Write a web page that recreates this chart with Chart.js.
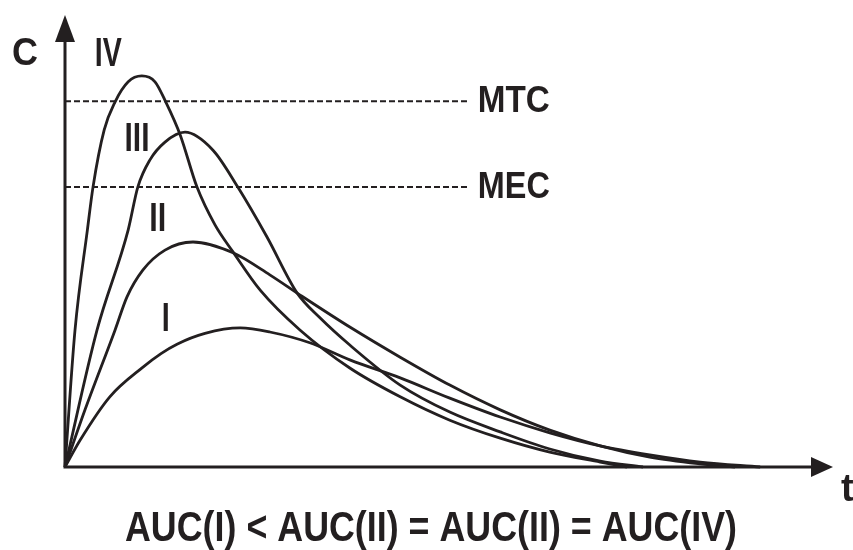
<!DOCTYPE html>
<html>
<head>
<meta charset="utf-8">
<script src="https://cdn.jsdelivr.net/npm/chart.js@4/dist/chart.umd.min.js"></script>
<style>
  body { margin: 0; background: #fff; }
  canvas { display: block; }
</style>
</head>
<body>
<canvas id="chart" width="853" height="550"></canvas>
<script>
// Кривые концентрации (t, C)
const curveIV = [[0,0],[1.25,30.4],[2.8,52.7],[3.5,62.2],[4.9,74.9],[6.25,81.1],[7.9,85.6],[9.6,86.9],[11.25,85.6],[12.6,81.1],[14.4,73.8],[16.5,62.2],[18.75,53.8],[21,47.8],[24.4,39.3],[29.4,30.4],[35.6,22],[41.9,15.6],[48.1,10.4],[54.4,6.4],[60.6,3.3],[66.9,1.1],[70.25,0]];
const curveIII = [[0,0],[4.0,30.4],[7.9,52.7],[9.1,62.2],[10.6,68.2],[12.5,72.2],[15,74.4],[18.5,70.4],[21.6,62.2],[25.25,51.1],[29,38.7],[31.9,33.1],[35.6,27.1],[41.9,18.2],[48.1,12.2],[54.4,7.8],[60.6,4],[66.9,1.3],[72.25,0]];
const curveII = [[0,0],[2.5,12.7],[6.25,30.4],[7.75,37.8],[9.75,43.8],[12.5,48.2],[16,50],[21,47.6],[25.6,42.7],[29.4,38.2],[35.6,31.1],[41.9,24.4],[48.1,18.2],[54.4,12.7],[60.6,8.2],[66.9,4.7],[73.1,2.2],[79.4,0.7],[83.75,0]];
const curveI = [[0,0],[1.9,6.0],[5.6,15.6],[9.75,22.2],[12,25.2],[14,27.3],[17.5,29.7],[21.9,30.9],[25.6,30],[30.6,27.6],[35.6,23.8],[41.9,19.8],[48.1,15.3],[54.4,11.1],[60.6,7.6],[66.9,4.7],[73.1,2.7],[79.4,1.1],[86.9,0]];

// Пороговые уровни
const levelNames = ["MTC", "MEC"];
const levelValues = [81.3, 62.2];
const levelEnd = 50.6;

const curveNames = ["IV", "III", "II", "I"];
const footer = "AUC(I) < AUC(II) = AUC(II) = AUC(IV)";

const ink = "#231f20";
const font = '"Liberation Sans Narrow", "Liberation Sans", Arial, sans-serif';

function toPoints(arr) {
    return arr.map(p => ({ x: p[0], y: p[1] }));
}

let datasets = [curveIV, curveIII, curveII, curveI].map((c, i) => ({
    label: curveNames[i],
    data: toPoints(c),
    borderColor: ink,
    borderWidth: 2.8,
    pointRadius: 0,
    cubicInterpolationMode: "monotone",
    fill: false,
    clip: false
}));

levelValues.forEach((v, i) => {
    datasets.push({
        label: levelNames[i],
        data: [{ x: 0, y: v }, { x: levelEnd, y: v }],
        borderColor: ink,
        borderWidth: 2,
        borderDash: [6, 3],
        pointRadius: 0,
        fill: false
    });
});

// Оси со стрелками и подписи
const decorations = {
    id: "decorations",
    afterDraw(chart) {
        const ctx = chart.ctx;
        const xs = chart.scales.x, ys = chart.scales.y;
        const x0 = xs.getPixelForValue(0), y0 = ys.getPixelForValue(0);
        const top = chart.chartArea.top, right = chart.chartArea.right;
        ctx.save();
        ctx.strokeStyle = ink;
        ctx.fillStyle = ink;
        ctx.lineWidth = 3;
        ctx.beginPath();
        ctx.moveTo(x0, y0);
        ctx.lineTo(x0, top + 20);
        ctx.moveTo(x0 - 1.5, y0);
        ctx.lineTo(right - 15, y0);
        ctx.stroke();
        // стрелка Y
        ctx.beginPath();
        ctx.moveTo(x0, top - 2);
        ctx.lineTo(x0 - 10, top + 25);
        ctx.lineTo(x0 + 10, top + 25);
        ctx.closePath();
        ctx.fill();
        // стрелка X
        ctx.beginPath();
        ctx.moveTo(right, y0);
        ctx.lineTo(right - 22, y0 - 10);
        ctx.lineTo(right - 22, y0 + 10);
        ctx.closePath();
        ctx.fill();

        ctx.textBaseline = "middle";
        ctx.textAlign = "center";
        ctx.font = "bold 38px " + font;
        ctx.fillText("C", x0 - 40, 55, 26);
        ctx.textAlign = "left";
        ctx.fillText("t", right + 8, y0 + 24, 14);

        // номера кривых
        const labelPos = [[5.4, 91.6, 27], [9.0, 72.7, 25], [11.6, 54.9, 17], [12.6, 32.7, 8]];
        ctx.textAlign = "center";
        ctx.font = "bold 40px " + font;
        curveNames.forEach((n, i) => {
            const p = labelPos[i];
            ctx.fillText(n, xs.getPixelForValue(p[0]), ys.getPixelForValue(p[1]), p[2]);
        });

        // MTC / MEC
        ctx.textAlign = "left";
        ctx.font = "bold 36px " + font;
        levelNames.forEach((n, i) => {
            ctx.fillText(n, xs.getPixelForValue(levelEnd) + 8, ys.getPixelForValue(levelValues[i]) + 1, 72);
        });

        // подпись снизу
        ctx.textAlign = "center";
        ctx.font = "bold 42px " + font;
        ctx.fillText(footer, 431, 529, 612);
        ctx.restore();
    }
};

new Chart(document.getElementById("chart").getContext("2d"), {
    type: "line",
    data: { datasets: datasets },
    options: {
        responsive: false,
        animation: false,
        layout: { padding: { left: 65, right: 20, top: 17, bottom: 83 } },
        scales: {
            x: { type: "linear", min: 0, max: 96, display: false },
            y: { type: "linear", min: 0, max: 100, display: false }
        },
        plugins: {
            legend: { display: false },
            tooltip: { enabled: false }
        }
    },
    plugins: [decorations]
});
</script>
</body>
</html>
